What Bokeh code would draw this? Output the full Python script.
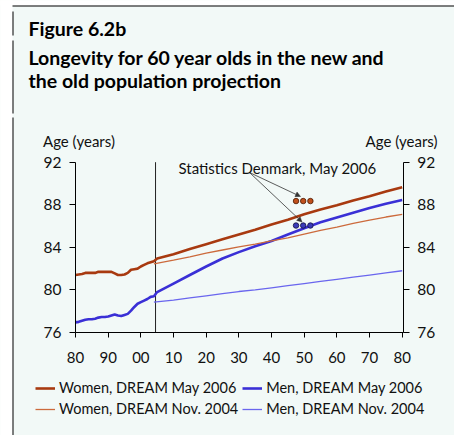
from bokeh.plotting import figure
from bokeh.models import (Range1d, LinearAxis, FixedTicker, Label, Arrow,
                          NormalHead, Legend, LegendItem, BoxAnnotation)
from bokeh.embed import file_html
from bokeh.resources import INLINE

# ---------------- data ----------------
hist_years = list(range(1980, 2005))
women_hist = [81.40, 81.45, 81.50, 81.60, 81.60, 81.60, 81.60, 81.70, 81.70, 81.70,
              81.70, 81.70, 81.55, 81.40, 81.40, 81.45, 81.60, 81.90, 81.95, 82.00,
              82.20, 82.35, 82.50, 82.60, 82.70]
men_hist = [76.95, 77.00, 77.10, 77.20, 77.25, 77.25, 77.30, 77.40, 77.45, 77.45,
            77.50, 77.60, 77.70, 77.60, 77.55, 77.65, 77.75, 78.05, 78.40, 78.70,
            78.85, 79.00, 79.15, 79.35, 79.40]

proj_years = [2005, 2010, 2015, 2020, 2025, 2030, 2035, 2040, 2045, 2050,
              2055, 2060, 2065, 2070, 2075, 2080]
women_may06 = [82.95, 83.35, 83.85, 84.30, 84.75, 85.20, 85.65, 86.15, 86.60, 87.10,
               87.55, 87.95, 88.40, 88.80, 89.25, 89.65]
men_may06 = [79.80, 80.60, 81.40, 82.20, 82.95, 83.55, 84.10, 84.60, 85.20, 85.80,
             86.35, 86.80, 87.25, 87.70, 88.10, 88.45]

nov04_years = [2004, 2010, 2015, 2020, 2025, 2030, 2035, 2040, 2045, 2050,
               2055, 2060, 2065, 2070, 2075, 2080]
women_nov04 = [82.45, 82.80, 83.10, 83.45, 83.75, 84.05, 84.30, 84.60, 84.90, 85.25,
               85.60, 85.90, 86.25, 86.55, 86.85, 87.10]
men_nov04 = [78.85, 79.05, 79.25, 79.45, 79.65, 79.85, 80.00, 80.20, 80.40, 80.60,
             80.80, 81.00, 81.20, 81.40, 81.60, 81.80]

sd_years = [2047.5, 2049.7, 2051.9]
sd_women = [88.35, 88.35, 88.35]
sd_men = [86.05, 86.05, 86.05]

projection_start = 2004.5

x_min, x_max = 1980, 2080.3
y_min, y_max = 76, 92
x_ticks = list(range(1980, 2081, 10))
x_tick_labels = ["80", "90", "00", "10", "20", "30", "40", "50", "60", "70", "80"]
y_ticks = [76, 80, 84, 88, 92]

title_1 = "Figure 6.2b"
title_2 = "Longevity for 60 year olds in the new and"
title_3 = "the old population projection"
y_label = "Age (years)"
annotation_text = "Statistics Denmark, May 2006"
legend_labels = ["Women, DREAM May 2006", "Men, DREAM May 2006",
                 "Women, DREAM Nov. 2004", "Men, DREAM Nov. 2004"]

# ---------------- style ----------------
BG = "#f2f9f7"
C_W_THICK = "#a83a10"
C_W_THIN = "#cc6a3c"
C_M_THICK = "#3a30d6"
C_M_THIN = "#6a66ee"
FONT = "Lato"
TXT = "#111111"

W, H = 454, 435
# pixel positions of the axis box (picture px): x 1980 -> 75, 2080 -> 401.7 ; y 92 -> 161.7, 76 -> 332
PX_X0, PX_X1 = 75.0, 401.7
PX_Y1, PX_Y0 = 161.7, 332.0


def dx(px):
    return 1980 + (px - PX_X0) * 100.0 / (PX_X1 - PX_X0)


def dy(py):
    return y_max - (py - PX_Y1) * (y_max - y_min) / (PX_Y0 - PX_Y1)


p = figure(width=W, height=H, x_range=Range1d(dx(0), dx(W)), y_range=Range1d(dy(H), dy(0)),
           output_backend="svg", toolbar_location=None,
           x_axis_location=None, y_axis_location=None, min_border=0,
           background_fill_color=BG, border_fill_color=BG, outline_line_color=None)
p.grid.visible = False

# white margin of the page (left strip and top strip)
p.add_layout(BoxAnnotation(left=dx(-5), right=dx(12), top=dy(-5), bottom=dy(H + 5),
                           fill_color="white", fill_alpha=1, line_color=None))
p.add_layout(BoxAnnotation(left=dx(-5), right=dx(W + 5), top=dy(-5), bottom=dy(5),
                           fill_color="white", fill_alpha=1, line_color=None))


def style_axis(ax, size="15px"):
    ax.axis_line_color = "black"
    ax.axis_line_width = 1
    ax.major_tick_line_color = "black"
    ax.major_tick_in = 0
    ax.major_tick_out = 5
    ax.minor_tick_line_color = None
    ax.major_label_text_font = FONT
    ax.major_label_text_font_size = size
    ax.major_label_text_color = TXT


xa = LinearAxis(ticker=FixedTicker(ticks=x_ticks), fixed_location=y_min,
                bounds=(x_min, x_max),
                major_label_overrides={t: l for t, l in zip(x_ticks, x_tick_labels)})
style_axis(xa)
xa.major_label_standoff = 14
p.add_layout(xa, "below")

for side, loc in (("left", x_min), ("right", x_max)):
    ya = LinearAxis(ticker=FixedTicker(ticks=y_ticks), fixed_location=loc,
                    bounds=(y_min, y_max))
    style_axis(ya, "15.5px")
    ya.major_tick_out = 6
    ya.major_label_standoff = 8
    p.add_layout(ya, side)

# projection start marker
p.segment(x0=[projection_start], y0=[y_min], x1=[projection_start], y1=[y_max],
          line_color="#222222", line_width=1)

r_wt = p.line(hist_years + proj_years, women_hist + women_may06,
              line_color=C_W_THICK, line_width=2.6)
r_mt = p.line(hist_years + proj_years, men_hist + men_may06,
              line_color=C_M_THICK, line_width=2.6)
r_wn = p.line(nov04_years, women_nov04, line_color=C_W_THIN, line_width=1.3)
r_mn = p.line(nov04_years, men_nov04, line_color=C_M_THIN, line_width=1.3)

p.scatter(sd_years, sd_women, size=5.5, fill_color="#c0501c", line_color="#4a1800",
          line_width=0.8)
p.scatter(sd_years, sd_men, size=5.5, fill_color="#3a3ab8", line_color="#101040",
          line_width=0.8)

for ex, ey in [(300, 196), (301.5, 221.5)]:
    p.add_layout(Arrow(x_start=dx(249), y_start=dy(172), x_end=dx(ex), y_end=dy(ey),
                       line_color="#333333", line_width=0.8,
                       end=NormalHead(size=5, fill_color="#333333",
                                      line_color="#333333", line_width=0.5)))

p.add_layout(Label(x=dx(178), y=dy(167.5), text=annotation_text,
                   text_font=FONT, text_font_size="15px",
                   text_color=TXT, text_baseline="alphabetic"))

# titles
for txt, py in [(title_1, 27.5), (title_2, 57), (title_3, 80)]:
    p.add_layout(Label(x=dx(28), y=dy(py), text=txt, text_font=FONT,
                       text_font_size="19.5px", text_font_style="bold",
                       text_color="black", text_baseline="alphabetic"))

p.add_layout(Label(x=dx(42.5), y=dy(140.5), text=y_label, text_font=FONT,
                   text_font_size="15px", text_color=TXT,
                   text_baseline="alphabetic"))
p.add_layout(Label(x=dx(437), y=dy(140.5), text=y_label, text_font=FONT,
                   text_font_size="15px", text_color=TXT,
                   text_baseline="alphabetic", text_align="right"))

# frame decorations
for y_a, y_b in [(11, 35), (40, 113), (117, H + 5)]:
    p.add_layout(Arrow(x_start=dx(12.5), y_start=dy(y_a), x_end=dx(12.5), y_end=dy(y_b),
                       end=None, line_color="black", line_width=1))
p.add_layout(Arrow(x_start=dx(12), y_start=dy(5.5), x_end=dx(W + 5), y_end=dy(5.5),
                   end=None, line_color="black", line_width=1))

# legend: two columns (women | men), filled column by column
legend = Legend(items=[LegendItem(label=legend_labels[0], renderers=[r_wt]),
                       LegendItem(label=legend_labels[2], renderers=[r_wn]),
                       LegendItem(label=legend_labels[1], renderers=[r_mt]),
                       LegendItem(label=legend_labels[3], renderers=[r_mn])],
                ncols=2, location=(35, 18), padding=0, margin=0, spacing=4,
                glyph_width=20, glyph_height=14, label_standoff=4,
                label_text_font=FONT, label_text_font_size="14.5px",
                label_text_color=TXT, label_height=16,
                background_fill_alpha=0, border_line_color=None)
p.add_layout(legend, "center")

open("out.html", "w").write(file_html(p, INLINE))
